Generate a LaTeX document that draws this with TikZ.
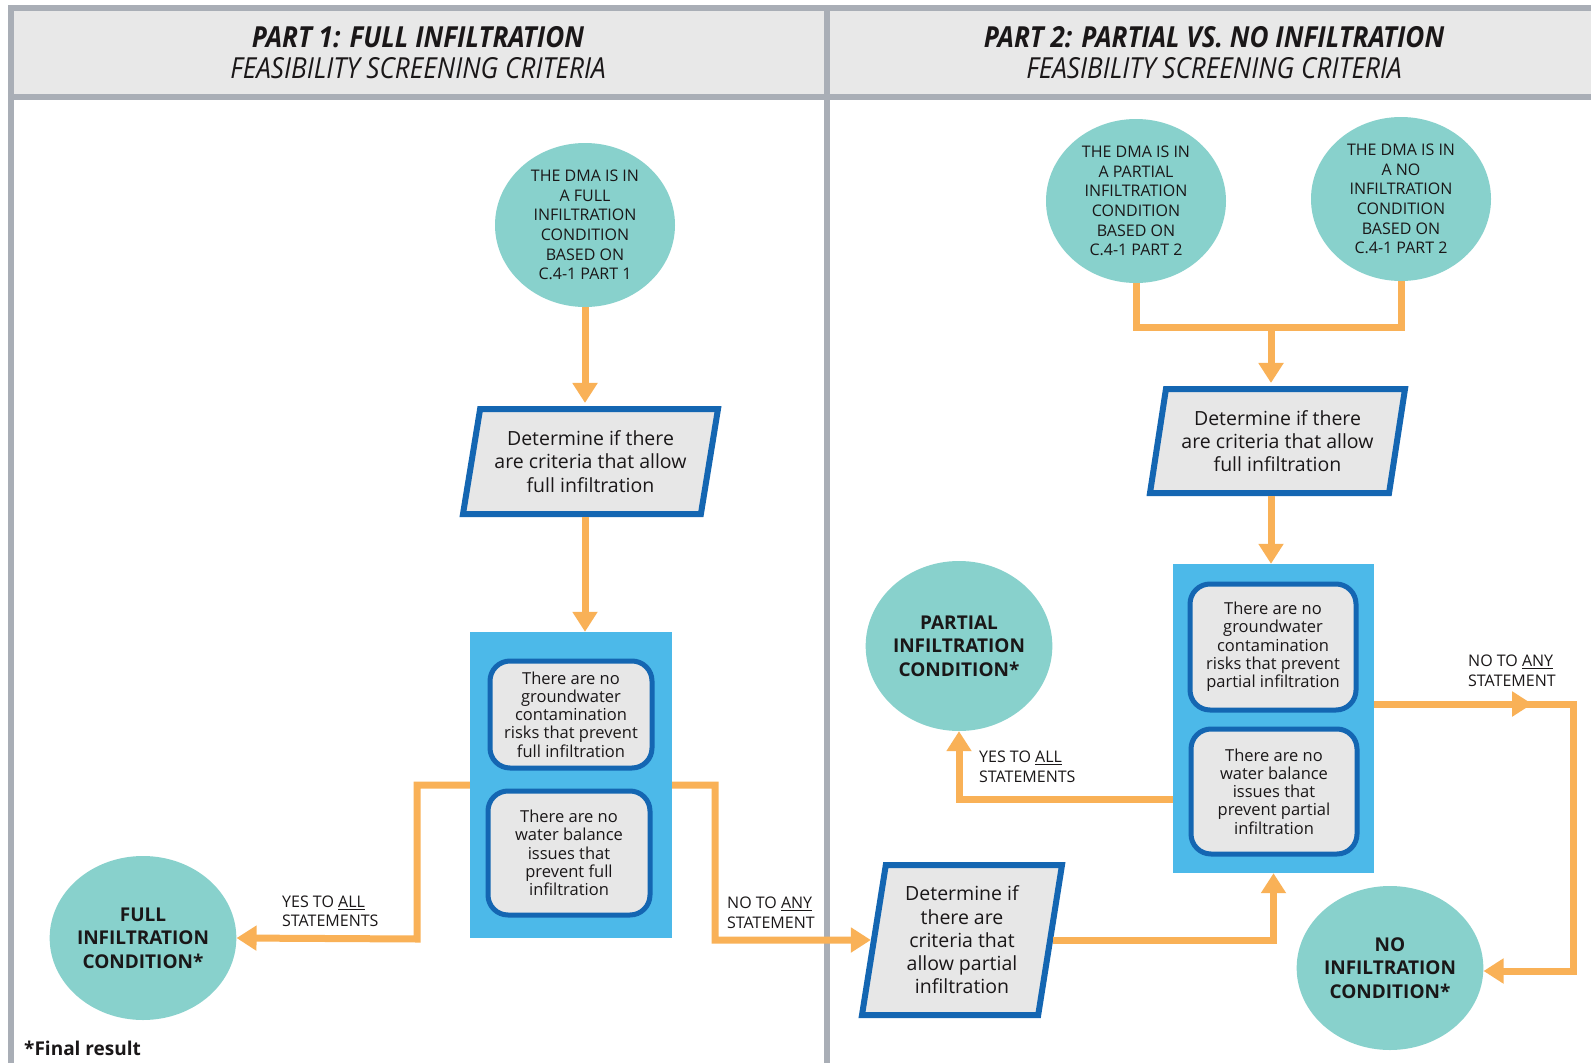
\documentclass[tikz,border=0pt]{standalone}
\usepackage{fontspec}
\setmainfont{Open Sans}
\newfontfamily\hdrfont[FakeStretch=0.9]{Open Sans}
\usetikzlibrary{shapes.geometric,arrows.meta,decorations.markings,calc}
\definecolor{orng}{HTML}{F9B157}
\definecolor{teal1}{HTML}{88D1CC}
\definecolor{bluebox}{HTML}{4CB9E9}
\definecolor{bluedark}{HTML}{1466B2}
\definecolor{grayfill}{HTML}{E7E7E7}
\definecolor{framegray}{HTML}{A9AEB6}
\definecolor{hdrfill}{HTML}{E8E8E8}
\definecolor{txt}{HTML}{1A1718}
\begin{document}
\begin{tikzpicture}[x=1pt,y=-1pt,
  circ/.style={ellipse, fill=teal1, minimum width=180pt, minimum height=164pt, inner sep=0pt, align=center, text=txt},
  smalltxt/.style={font=\fontsize{16}{19.7}\selectfont},
  bigtxt/.style={font=\fontsize{19}{23.3}\selectfont\bfseries},
  pgnode/.style={trapezium, trapezium stretches body, draw=bluedark, line width=6pt, fill=grayfill,
     inner sep=0pt, align=center, text=txt, font=\fontsize{19.5}{23.3}\selectfont},
  bluebg/.style={fill=bluebox, draw=none, inner sep=0pt},
  stmt/.style={draw=bluedark, line width=5pt, fill=grayfill, rounded corners=20pt, inner sep=0pt,
     align=center, text=txt, font=\fontsize{16.5}{18.3}\selectfont},
  conn/.style={draw=orng, line width=7pt},
  arr/.style={conn, -{Triangle[width=24pt,length=20pt]}},
  lbl/.style={anchor=west, align=left, inner sep=0pt, text=txt, font=\fontsize{16}{19.5}\selectfont},
  framel/.style={draw=framegray, line width=6pt},
  hdr/.style={text=txt, align=center, inner sep=0pt, font=\hdrfont\fontsize{29}{31}\selectfont}
]
\useasboundingbox (0,0) rectangle (1591,1063);
\clip (0,0) rectangle (1591,1063);
\fill[white] (0,0) rectangle (1591,1063);

% frame
\fill[hdrfill] (10,8) rectangle (1620,97);
\draw[framel] (10.5,1090) -- (10.5,8) -- (1620,8);
\draw[framel] (10,97) -- (1620,97);
\draw[framel] (827,8) -- (827,1090);

\node[hdr] (h1) at (418,53) {\textbf{\textit{PART 1: FULL INFILTRATION}}\\\textit{FEASIBILITY SCREENING CRITERIA}};
\node[hdr] (h2) at (1214,53) {\textbf{\textit{PART 2: PARTIAL VS. NO INFILTRATION}}\\\textit{FEASIBILITY SCREENING CRITERIA}};

% Part 1
\node[circ, smalltxt] (a) at (585,225) {THE DMA IS IN\\A FULL\\INFILTRATION\\CONDITION\\BASED ON\\C.4-1 PART 1};
\node[pgnode, trapezium left angle=74.5, trapezium right angle=105.5, minimum width=255pt, minimum height=105pt] (p1) at (590.5,461.5) {Determine if there\\are criteria that allow\\full infiltration};
\node[bluebg, minimum width=202pt, minimum height=306pt] (b1) at (571,785) {};
\node[stmt, minimum width=162pt, minimum height=107pt] (s1) at (571,714.5) {There are no\\groundwater\\contamination\\risks that prevent\\full infiltration};
\node[stmt, minimum width=162pt, minimum height=124pt] (s2) at (569,853) {There are no\\water balance\\issues that\\prevent full\\infiltration};
\node[circ, bigtxt] (full) at (143,938) {FULL\\INFILTRATION\\CONDITION*};

% Part 2
\node[circ, smalltxt] (c) at (1136,201) {THE DMA IS IN\\A PARTIAL\\INFILTRATION\\CONDITION\\BASED ON\\C.4-1 PART 2};
\node[circ, smalltxt] (d) at (1401,199) {THE DMA IS IN\\A NO\\INFILTRATION\\CONDITION\\BASED ON\\C.4-1 PART 2};
\node[pgnode, trapezium left angle=75.5, trapezium right angle=104.5, minimum width=255pt, minimum height=104pt] (p2) at (1277.5,441) {Determine if there\\are criteria that allow\\full infiltration};
\node[bluebg, minimum width=201pt, minimum height=309pt] (b2) at (1273.5,718.5) {};
\node[stmt, minimum width=166pt, minimum height=126pt] (s3) at (1273,647) {There are no\\groundwater\\contamination\\risks that prevent\\partial infiltration};
\node[stmt, minimum width=166pt, minimum height=125pt] (s4) at (1274,791.5) {There are no\\water balance\\issues that\\prevent partial\\infiltration};
\node[circ, bigtxt, minimum height=170pt] (partial) at (959,646) {PARTIAL\\INFILTRATION\\CONDITION*};
\node[pgnode, trapezium left angle=77.6, trapezium right angle=102.4, minimum width=200pt, minimum height=150pt] (p3) at (962,940) {Determine if\\there are\\criteria that\\allow partial\\infiltration};
\node[circ, bigtxt] (no) at (1390,968) {NO\\INFILTRATION\\CONDITION*};

% labels
\node[lbl] (yes1) at (282,911.5) {YES TO \underline{ALL}\\STATEMENTS};
\node[lbl] (no1) at (727,913) {NO TO \underline{ANY}\\STATEMENT};
\node[lbl] (yes2) at (979,767) {YES TO \underline{ALL}\\STATEMENTS};
\node[lbl] (no2) at (1468,671) {NO TO \underline{ANY}\\STATEMENT};
\node[anchor=west, inner sep=0pt, text=txt, font=\fontsize{19}{23}\selectfont\bfseries] (fin) at (24,1048) {*Final result};

% connectors part 1
\draw[arr, shorten >=3pt] (a.south) -- (a.south |- p1.north);
\draw[arr] (a.south |- p1.south) -- (a.south |- b1.north);
\draw[arr] (b1.west) -| (417,939) -- (full.east);
\draw[arr] (b1.east) -| (715,940) -- (p3.west);

% connectors part 2
\coordinate (j) at (1271,327);
\draw[conn] (c.south) |- (j) -| (d.south);
\draw[arr, shorten >=3pt] (j) -- (j |- p2.north);
\draw[arr] (j |- p2.south) -- (j |- b2.north);
\draw[arr] (p3.east) -| (b2.south);
\draw[arr] (b2.west |- 0,799) -| (partial.south);
\draw[arr, postaction={decorate, decoration={markings, mark=at position 158pt with {\arrow[orng]{Triangle[width=24pt,length=20pt]}}}}]
  (b2.east |- 0,704) -| (1573,971) -- (no.east |- 0,971);
\end{tikzpicture}
\end{document}
